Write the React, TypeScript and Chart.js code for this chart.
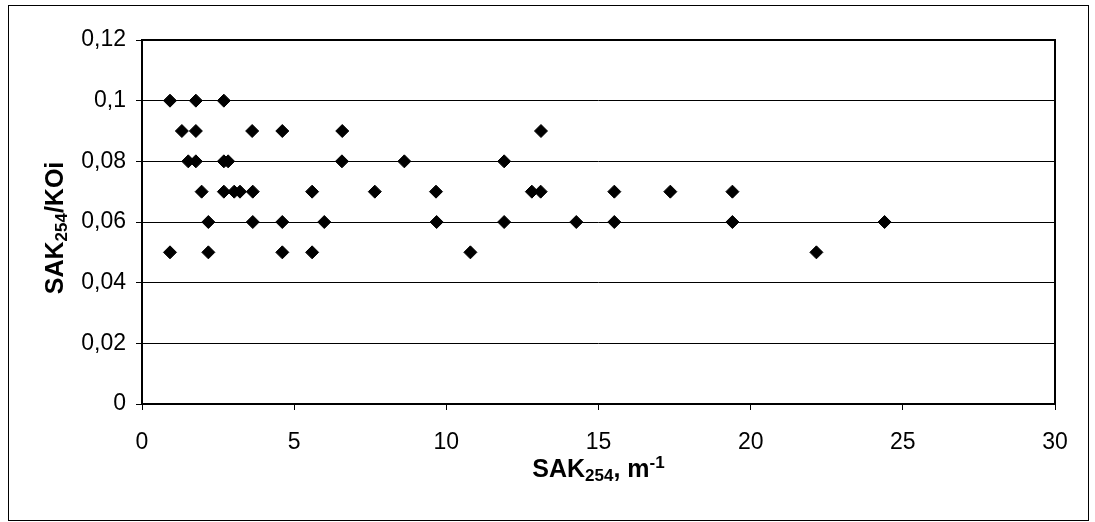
import { useEffect, useRef } from 'react';
import { Chart, registerables } from 'chart.js';

Chart.register(...registerables);

// SAK254 (m^-1) values, paired with the ratio values below
const sakValues = [
  0.92, 1.77, 2.69,
  1.31, 1.77, 3.62, 4.61, 6.58, 13.11,
  1.52, 1.77, 2.69, 2.83, 6.57, 8.62, 11.9,
  1.96, 2.69, 3.03, 3.22, 3.64, 5.59, 7.65, 9.66, 12.81, 13.1, 15.52, 17.36, 19.4,
  2.18, 3.64, 4.61, 5.99, 9.68, 11.9, 14.27, 15.52, 19.4, 24.4,
  0.92, 2.18, 4.61, 5.59, 10.79, 22.16,
];
// SAK254 / KOi ratio values
const ratioValues = [
  0.1, 0.1, 0.1,
  0.09, 0.09, 0.09, 0.09, 0.09, 0.09,
  0.08, 0.08, 0.08, 0.08, 0.08, 0.08, 0.08,
  0.07, 0.07, 0.07, 0.07, 0.07, 0.07, 0.07, 0.07, 0.07, 0.07, 0.07, 0.07, 0.07,
  0.06, 0.06, 0.06, 0.06, 0.06, 0.06, 0.06, 0.06, 0.06, 0.06,
  0.05, 0.05, 0.05, 0.05, 0.05, 0.05,
];

const xTickLabels = ['0', '5', '10', '15', '20', '25', '30'];
const yTickLabels = ['0', '0,02', '0,04', '0,06', '0,08', '0,1', '0,12'];

type Part = { text: string; kind: 'n' | 'sub' | 'sup' };
const xTitleParts: Part[] = [
  { text: 'SAK', kind: 'n' },
  { text: '254', kind: 'sub' },
  { text: ', m', kind: 'n' },
  { text: '-1', kind: 'sup' },
];
const yTitleParts: Part[] = [
  { text: 'SAK', kind: 'n' },
  { text: '254', kind: 'sub' },
  { text: '/KOi', kind: 'n' },
];

const FONT = '"Liberation Sans", Arial, sans-serif';

function fontFor(p: Part) {
  return p.kind === 'n' ? `bold 25px ${FONT}` : `bold 17px ${FONT}`;
}
function dyFor(p: Part) {
  if (p.kind === 'sub') return 4;
  if (p.kind === 'sup') return -9;
  return 0;
}
function drawRich(ctx: CanvasRenderingContext2D, parts: Part[], cx: number, baseline: number) {
  const widths = parts.map((p) => {
    ctx.font = fontFor(p);
    return ctx.measureText(p.text).width;
  });
  const total = widths.reduce((a, b) => a + b, 0);
  let x = cx - total / 2;
  ctx.textAlign = 'left';
  ctx.textBaseline = 'alphabetic';
  ctx.fillStyle = '#000';
  parts.forEach((p, i) => {
    ctx.font = fontFor(p);
    ctx.fillText(p.text, x, baseline + dyFor(p));
    x += widths[i];
  });
}

const framePlugin = {
  id: 'frame',
  beforeDraw(chart: any) {
    const ctx = chart.ctx as CanvasRenderingContext2D;
    ctx.save();
    ctx.fillStyle = '#fff';
    ctx.fillRect(0, 0, chart.width, chart.height);
    ctx.strokeStyle = '#000';
    ctx.lineWidth = 1;
    ctx.strokeRect(8.5, 5.5, 1080, 515);
    ctx.restore();
  },
  beforeDatasetsDraw(chart: any) {
    const ctx = chart.ctx as CanvasRenderingContext2D;
    const a = chart.chartArea;
    ctx.save();
    ctx.strokeStyle = '#000';
    ctx.lineWidth = 2;
    ctx.strokeRect(a.left, a.top, a.right - a.left, a.bottom - a.top);
    ctx.restore();
  },
  afterDraw(chart: any) {
    const ctx = chart.ctx as CanvasRenderingContext2D;
    const a = chart.chartArea;
    ctx.save();
    drawRich(ctx, xTitleParts, (a.left + a.right) / 2, 477);
    ctx.translate(63, 228);
    ctx.rotate(-Math.PI / 2);
    drawRich(ctx, yTitleParts, 0, 0);
    ctx.restore();
  },
};

export default function App() {
  const ref = useRef<HTMLCanvasElement | null>(null);

  useEffect(() => {
    document.body.style.margin = '0';
    if (!ref.current) return;
    const chart = new Chart(ref.current, {
      type: 'scatter',
      data: {
        datasets: [
          {
            label: 'SAK254/KOi',
            data: sakValues.map((x, i) => ({ x, y: ratioValues[i] })),
            pointStyle: 'rectRot',
            pointRadius: 6.5,
            pointBackgroundColor: '#000',
            pointBorderColor: '#000',
            pointBorderWidth: 1,
            showLine: false,
          },
        ],
      },
      options: {
        responsive: false,
        animation: false,
        devicePixelRatio: 1,
        layout: { padding: { top: 40, right: 40, left: 0, bottom: 0 } },
        plugins: { legend: { display: false }, tooltip: { enabled: false } },
        scales: {
          x: {
            type: 'linear',
            min: 0,
            max: 30,
            afterFit: (s: any) => {
              s.height = 118;
            },
            ticks: {
              stepSize: 5,
              callback: (_v: any, i: number) => xTickLabels[i],
              font: { family: FONT, size: 23 },
              color: '#000',
              padding: 19,
              maxRotation: 0,
            },
            grid: { drawOnChartArea: false, drawTicks: true, tickLength: 6, color: '#000', lineWidth: 1 },
            border: { display: false },
          },
          y: {
            type: 'linear',
            min: 0,
            max: 0.12,
            afterFit: (s: any) => {
              s.width = 142;
            },
            ticks: {
              stepSize: 0.02,
              callback: (_v: any, i: number) => yTickLabels[i],
              font: { family: FONT, size: 23 },
              color: '#000',
              padding: 10,
            },
            grid: { drawOnChartArea: true, drawTicks: true, tickLength: 6, color: '#000', lineWidth: 1 },
            border: { display: false },
          },
        },
      },
      plugins: [framePlugin],
    });
    return () => chart.destroy();
  }, []);

  return (
    <div style={{ width: 1095, height: 522 }}>
      <canvas ref={ref} width={1095} height={522} style={{ display: 'block' }} />
    </div>
  );
}
